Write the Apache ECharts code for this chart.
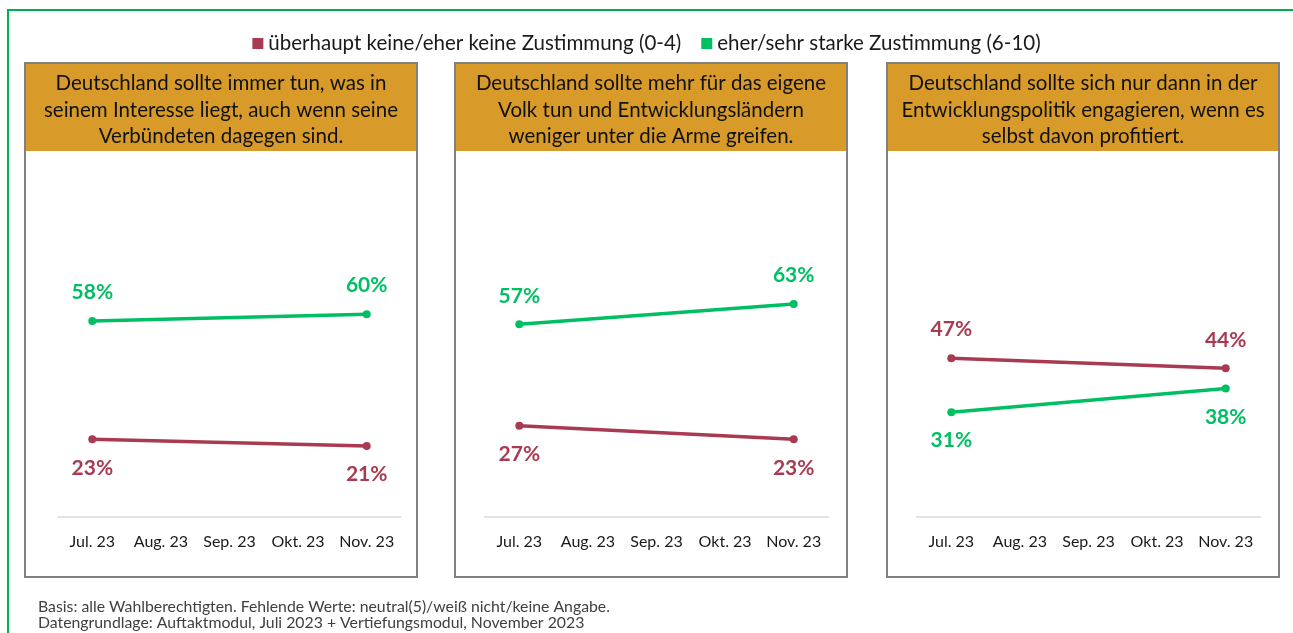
<!DOCTYPE html>
<html>
<head>
<meta charset="utf-8">
<script src="https://cdn.jsdelivr.net/npm/echarts@6/dist/echarts.min.js"></script>
<style>
  html, body { margin: 0; padding: 0; background: #fff; }
  #chart { width: 1293px; height: 633px; }
</style>
</head>
<body>
<div id="chart"></div>
<script>
const months = ['Jul. 23', 'Aug. 23', 'Sep. 23', 'Okt. 23', 'Nov. 23']
const seriesNames = ['überhaupt keine/eher keine Zustimmung (0-4)', 'eher/sehr starke Zustimmung (6-10)']
const titles = [
  'Deutschland sollte immer tun, was in\nseinem Interesse liegt, auch wenn seine\nVerbündeten dagegen sind.',
  'Deutschland sollte mehr für das eigene\nVolk tun und Entwicklungsländern\nweniger unter die Arme greifen.',
  'Deutschland sollte sich nur dann in der\nEntwicklungspolitik engagieren, wenn es\nselbst davon profitiert.'
]
// Jul. 23 and Nov. 23 only, other months have no survey
const disagree = [
  [23, null, null, null, 21],
  [27, null, null, null, 23],
  [47, null, null, null, 44]
]
const agree = [
  [58, null, null, null, 60],
  [57, null, null, null, 63],
  [31, null, null, null, 38]
]

const RED = '#A83B51'
const GREEN = '#00BF63'
const GOLD = '#D89B2A'
const FONT = 'Lato, "Open Sans", sans-serif'

const panelX = [25, 455, 887]
const gridX = [58, 485, 917]

const chart = echarts.init(document.getElementById('chart'))

const grids = [], xAxes = [], yAxes = [], series = [], graphics = []

// green frame (only top and left visible)
graphics.push({
  type: 'rect', shape: { x: 8, y: 10, width: 1400, height: 700 },
  style: { fill: 'none', stroke: '#00B050', lineWidth: 2 }, silent: true, z: 0
})

panelX.forEach((px, i) => {
  grids.push({ left: gridX[i], width: 343, top: 179, height: 338 })
  xAxes.push({
    type: 'category', gridIndex: i, data: months, boundaryGap: true,
    axisLine: { lineStyle: { color: '#E3E3E3', width: 2 } },
    axisTick: { show: false },
    axisLabel: { interval: 0, margin: 17, fontSize: 16, color: '#1a1a1a', fontFamily: FONT }
  })
  yAxes.push({ type: 'value', gridIndex: i, min: 0, max: 100, show: false, splitLine: { show: false } })

  const redTop = disagree[i][0] > agree[i][0]
  const mk = (name, data, color, pos) => ({
    name, type: 'line', xAxisIndex: i, yAxisIndex: i, data, connectNulls: true,
    symbol: 'circle', symbolSize: 8,
    lineStyle: { color, width: 3.5 }, itemStyle: { color },
    label: {
      show: true, position: pos, distance: 14, formatter: '{c}%',
      fontSize: 21, fontWeight: 'bold', color, fontFamily: FONT
    },
    emphasis: { disabled: true }, animation: false
  })
  series.push(mk(seriesNames[0], disagree[i], RED, redTop ? 'top' : 'bottom'))
  series.push(mk(seriesNames[1], agree[i], GREEN, redTop ? 'bottom' : 'top'))

  // panel frame + header
  graphics.push({
    type: 'rect', shape: { x: px, y: 63, width: 392, height: 514 },
    style: { fill: 'none', stroke: '#808080', lineWidth: 2 }, silent: true, z: 1
  })
  graphics.push({
    type: 'rect', shape: { x: px + 1, y: 64, width: 390, height: 87 },
    style: { fill: GOLD }, silent: true, z: 2
  })
  graphics.push({
    type: 'text', x: px + 196, y: 110, z: 3, silent: true,
    style: {
      text: titles[i], fill: '#111', fontSize: 20.5, fontFamily: FONT,
      align: 'center', verticalAlign: 'middle', lineHeight: 26.5
    }
  })
})

graphics.push({
  type: 'text', left: 38, top: 599, silent: true,
  style: {
    text: 'Basis: alle Wahlberechtigten. Fehlende Werte: neutral(5)/weiß nicht/keine Angabe.\nDatengrundlage: Auftaktmodul, Juli 2023 + Vertiefungsmodul, November 2023',
    fill: '#404040', fontSize: 15.8, lineHeight: 16, fontFamily: FONT
  }
})

chart.setOption({
  animation: false,
  legend: {
    data: seriesNames, top: 28, left: 'center', icon: 'rect',
    itemWidth: 11, itemHeight: 11, itemGap: 20,
    textStyle: { fontSize: 20.5, color: '#1a1a1a', fontFamily: FONT },
    selectedMode: false
  },
  grid: grids,
  xAxis: xAxes,
  yAxis: yAxes,
  series,
  graphic: graphics
})
</script>
</body>
</html>
